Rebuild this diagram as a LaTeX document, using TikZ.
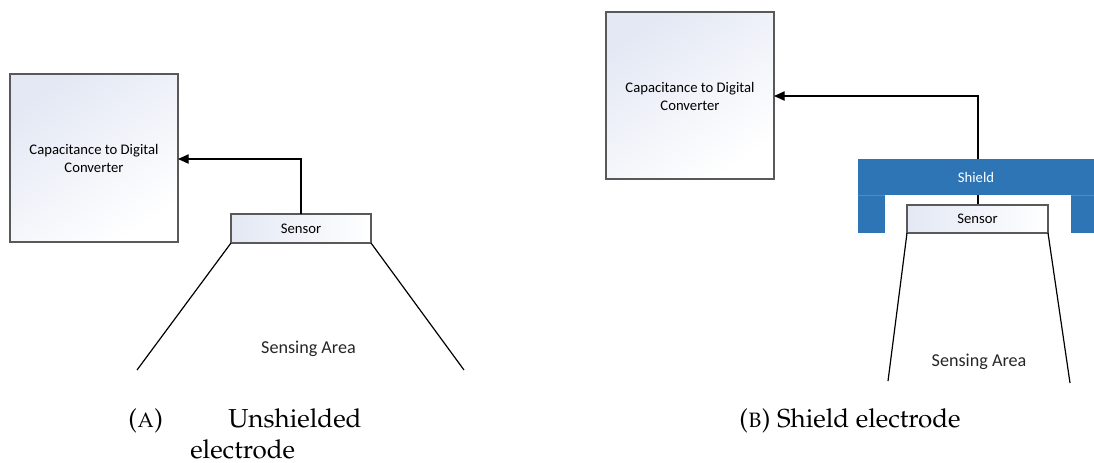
\documentclass[tikz,border=0pt]{standalone}
\usepackage[T1,TU]{fontenc}
\usepackage{fontspec}
\usetikzlibrary{arrows.meta}
\newfontfamily\diagfont{Carlito}
\newcommand{\capfont}{\fontencoding{T1}\fontfamily{ppl}\fontsize{19.5}{24}\selectfont}
\definecolor{edge}{HTML}{595959}
\definecolor{tint}{HTML}{E3E8F4}
\definecolor{shieldblue}{HTML}{2E75B6}
\definecolor{shieldline}{HTML}{4A8CC8}
\tikzset{
  blockfill/.style={draw=edge, line width=0.9pt, top color=tint, bottom color=white, shading angle=35},
  sensorfill/.style={draw=edge, line width=0.9pt, left color=tint, right color=white},
  lbl/.style={font=\diagfont\fontsize{11}{13.5}\selectfont, align=center, text=black},
  arealbl/.style={font=\diagfont\fontsize{13.6}{16}\selectfont, text=black!85},
  wire/.style={line width=0.9pt, black},
  cone/.style={line width=0.9pt, black},
  caption/.style={font=\capfont, text=black, inner sep=0pt},
}
\begin{document}
\begin{tikzpicture}[x=0.75pt, y=-0.75pt]
\useasboundingbox (0,0) rectangle (1094,462);

% ---------- (A) unshielded electrode ----------
\path[blockfill] (10,74) rectangle (178,242);
\node[lbl] (cdcA) at (94,158) {Capacitance to Digital\\Converter};
\coordinate (cdcAin) at (178,159);
\path[sensorfill] (231,214) rectangle (371,243);
\node[lbl] (senA) at (301,228.5) {Sensor};
\coordinate (senAtop) at (301,214);
\draw[wire, -{Triangle[length=8pt,width=7pt]}] (senAtop) |- (cdcAin);
\coordinate (aBL) at (231,243);
\coordinate (aBR) at (371,243);
\coordinate (aFL) at (137,370);
\coordinate (aFR) at (464,370);
\draw[cone] (aBL) -- (aFL);
\draw[cone] (aBR) -- (aFR);
\node[arealbl] (areaA) at (308.5,349) {Sensing Area};

% ---------- (B) shield electrode ----------
\path[blockfill] (606,12) rectangle (774,179);
\node[lbl] (cdcB) at (690,96) {Capacitance to Digital\\Converter};
\coordinate (cdcBin) at (774,96);
\coordinate (senBtop) at (978,205);
\draw[wire, -{Triangle[length=8pt,width=7pt]}] (senBtop) |- (cdcBin);
% shield drawn over the lead: bar with two legs
\fill[shieldblue] (858,159) rectangle (1094,195);
\fill[shieldblue] (858,195) rectangle (885,233);
\fill[shieldblue] (1071,195) rectangle (1094,233);
\draw[shieldline, line width=0.6pt] (858,195) -- (885,195);
\draw[shieldline, line width=0.6pt] (1071,195) -- (1094,195);
\draw[wire] (978,195) -- (senBtop);
\node[lbl, text=white] (shield) at (976,177) {Shield};
\path[sensorfill] (907,205) rectangle (1048,233);
\node[lbl] (senB) at (977.5,219) {Sensor};
\coordinate (bBL) at (907,233);
\coordinate (bBR) at (1048,233);
\coordinate (bFL) at (888,381);
\coordinate (bFR) at (1070,383);
\draw[cone] (bBL) -- (bFL);
\draw[cone] (bBR) -- (bFR);
\node[arealbl] (areaB) at (979,362) {Sensing Area};

% ---------- captions ----------
\node[caption, anchor=base west] (capA1) at (128,427) {(\textsc{a})};
\node[caption, anchor=base west] (capA2) at (228,427) {Unshielded};
\node[caption, anchor=base west] (capA3) at (190,458) {electrode};
\node[caption, anchor=base west] (capB) at (739,427) {(\textsc{b}) Shield electrode};
\end{tikzpicture}
\end{document}
